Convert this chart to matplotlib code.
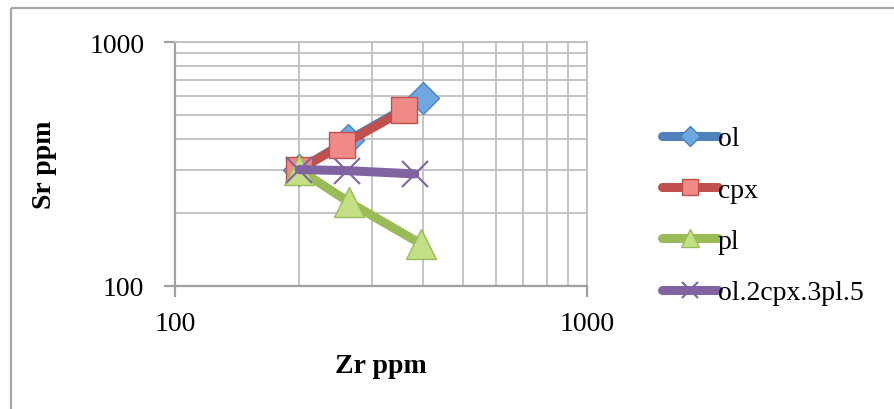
import matplotlib
matplotlib.use("Agg")
import matplotlib.pyplot as plt
from matplotlib.lines import Line2D
from matplotlib.ticker import LogLocator, NullFormatter, FixedLocator, FixedFormatter

plt.rcParams['font.family'] = ['Liberation Serif', 'DejaVu Serif']
plt.rcParams['lines.solid_capstyle'] = 'round'

# Data
series_names = ["ol", "cpx", "pl", "ol.2cpx.3pl.5"]
ol_x = [200, 263, 400]
ol_y = [300, 395, 590]
cpx_x = [200, 254, 360]
cpx_y = [300, 378, 526]
pl_x = [200, 265, 395]
pl_y = [300, 220, 149]
mix_x = [200, 262, 382]
mix_y = [300, 297, 288]
x_ticks = [100, 1000]
y_ticks = [100, 1000]
x_label = "Zr ppm"
y_label = "Sr ppm"

W, H = 894, 410
fig = plt.figure(figsize=(W / 100, H / 100), dpi=100)

# outer frame lines (left and top)
fig.add_artist(Line2D([11 / W, 11 / W], [0, 1 - 8.5 / H], color="#A6A6A6", lw=1.6,
                      solid_capstyle="butt", transform=fig.transFigure))
fig.add_artist(Line2D([11 / W, 1], [1 - 8.5 / H, 1 - 8.5 / H], color="#A6A6A6", lw=1.6,
                      solid_capstyle="butt", transform=fig.transFigure))

ax = fig.add_axes([175 / W, 1 - 287 / H, 412 / W, 244 / H])
ax.set_xscale("log")
ax.set_yscale("log")
ax.set_xlim(100, 1000)
ax.set_ylim(100, 1000)

grid_c = "#BFBFBF"
ax.xaxis.set_minor_locator(LogLocator(base=10, subs=range(2, 10)))
ax.yaxis.set_minor_locator(LogLocator(base=10, subs=range(2, 10)))
ax.xaxis.set_minor_formatter(NullFormatter())
ax.yaxis.set_minor_formatter(NullFormatter())
ax.xaxis.set_major_locator(FixedLocator(x_ticks))
ax.yaxis.set_major_locator(FixedLocator(y_ticks))
ax.xaxis.set_major_formatter(FixedFormatter([str(v) for v in x_ticks]))
ax.yaxis.set_major_formatter(FixedFormatter([str(v) for v in y_ticks]))
ax.grid(True, which="both", color=grid_c, lw=1.3, solid_capstyle="butt")
ax.set_axisbelow(True)
ax.tick_params(which="minor", length=0)
ax.tick_params(which="major", length=8, width=1.6, color="#A0A0A0", labelsize=20)
ax.tick_params(axis="x", which="major", pad=10)
ax.tick_params(axis="y", which="major", pad=14)

for s in ["left", "bottom"]:
    ax.spines[s].set_color("#A0A0A0")
    ax.spines[s].set_linewidth(1.6)
for s in ["top", "right"]:
    ax.spines[s].set_color(grid_c)
    ax.spines[s].set_linewidth(1.3)

lw = 6.5
ms = 19
ax.plot(ol_x, ol_y, color="#4F81BD", lw=lw, marker="D", ms=ms * 0.85, mfc="#6FA8E0",
        mec="#4F81BD", mew=1, label=series_names[0], zorder=3)
ax.plot(cpx_x, cpx_y, color="#C0504D", lw=lw, marker="s", ms=ms, mfc="#F08A87",
        mec="#C0504D", mew=1, label=series_names[1], zorder=4)
ax.plot(pl_x, pl_y, color="#9BBB59", lw=lw, marker="^", ms=ms * 1.1, mfc="#C4DE86",
        mec="#9BBB59", mew=1, label=series_names[2], zorder=5)
ax.plot(mix_x, mix_y, color="#8064A2", lw=lw, marker="x", ms=ms, mec="#8064A2",
        mew=1.5, label=series_names[3], zorder=6)

ax.set_xlabel(x_label, fontsize=20, fontweight="bold", labelpad=12)
ax.set_ylabel(y_label, fontsize=20, fontweight="bold", labelpad=23)

leg = fig.legend(loc="upper left", bbox_to_anchor=(662 / W, 1 - 127 / H), frameon=False,
                 fontsize=20, handlelength=2.0, handletextpad=0.0, labelspacing=0.93,
                 markerscale=0.6, borderpad=0, borderaxespad=0)

fig.savefig("out.png", dpi=100)
